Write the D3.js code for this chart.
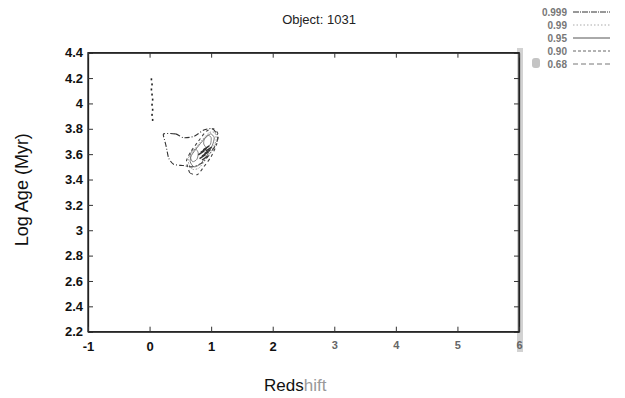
<!DOCTYPE html>
<html><head><meta charset="utf-8">
<script src="https://cdn.jsdelivr.net/npm/d3@7"></script>
<style>body{margin:0;background:#fff}svg{display:block}</style>
</head><body><svg id="c" width="625" height="398"></svg>
<script>
const titleText = "Object: 1031";
const xLabelText = "Redshift";
const yLabelText = "Log Age (Myr)";
const xTicks = [-1,0,1,2,3,4,5,6];
const yTicks = [2.2,2.4,2.6,2.8,3,3.2,3.4,3.6,3.8,4,4.2,4.4];
const legendLabels = ["0.999","0.99","0.95","0.90","0.68"];
const legendDash = ["6,1,1,1","1.5,2","0","3,2","5,3"];
const legendColor = ["#333","#aaa","#555","#666","#777"];

// vertical dotted track near z~0
const trackX = [0.03,0.04,0.03,0.04,0.05,0.04,0.05,0.04,0.05];
const trackY = [4.19,4.15,4.11,4.07,4.03,3.99,3.95,3.91,3.87];

// contour rings (redshift, log age)
const ringOuter = [[0.23,3.76],[0.42,3.76],[0.55,3.73],[0.72,3.74],[0.88,3.79],[1.02,3.80],[1.11,3.74],[1.07,3.67],[0.96,3.59],[0.85,3.53],[0.69,3.50],[0.55,3.51],[0.39,3.52],[0.31,3.57],[0.27,3.66],[0.24,3.72]];
const ringDashed = [[0.62,3.50],[0.66,3.45],[0.78,3.44],[0.88,3.50],[1.00,3.58],[1.09,3.68],[1.11,3.76],[1.04,3.80],[0.92,3.78],[0.79,3.70],[0.67,3.62],[0.60,3.55]];
const ringDotted = [[0.64,3.52],[0.70,3.48],[0.80,3.49],[0.90,3.55],[1.01,3.63],[1.08,3.71],[1.06,3.77],[0.97,3.77],[0.85,3.71],[0.72,3.63],[0.63,3.57]];
const ringMid = [[0.66,3.54],[0.72,3.50],[0.82,3.52],[0.93,3.59],[1.02,3.67],[1.05,3.73],[0.99,3.76],[0.89,3.72],[0.77,3.65],[0.68,3.59]];
const ringInnerA = [[0.66,3.58],[0.70,3.54],[0.77,3.56],[0.79,3.61],[0.75,3.64],[0.68,3.62]];
const ringInnerB = [[0.88,3.68],[0.93,3.65],[0.99,3.68],[1.00,3.73],[0.95,3.75],[0.89,3.72]];
const coreX = [0.86,0.90,0.94,0.88,0.92,0.96,0.84,0.90];
const coreY = [3.58,3.60,3.62,3.63,3.65,3.64,3.61,3.57];

const svg = d3.select("#c");
const x = d3.scaleLinear().domain([-1,6]).range([88,519]);
const y = d3.scaleLinear().domain([2.2,4.4]).range([331.7,52.7]);
const font = "'Liberation Sans', Arial, sans-serif";

// gray scan strip on right edge
svg.append("rect").attr("x",517).attr("y",48).attr("width",6).attr("height",304).attr("fill","#d2d2d2");
svg.append("rect").attr("x",532).attr("y",58).attr("width",8).attr("height",10).attr("rx",3).attr("fill","#c4c4c4");

// frame
svg.append("rect").attr("x",x(-1)).attr("y",y(4.4)).attr("width",x(6)-x(-1)).attr("height",y(2.2)-y(4.4))
  .attr("fill","none").attr("stroke","#222").attr("stroke-width",1.3);

// axes
const gL = svg.append("g").attr("transform",`translate(${x(-1)},0)`)
  .call(d3.axisLeft(y).tickValues(yTicks).tickFormat(d=>String(d)).tickSizeInner(-5).tickSizeOuter(0).tickPadding(5));
const gR = svg.append("g").attr("transform",`translate(${x(6)},0)`)
  .call(d3.axisRight(y).tickValues(yTicks).tickFormat("").tickSizeInner(-5).tickSizeOuter(0));
const gB = svg.append("g").attr("transform",`translate(0,${y(2.2)})`)
  .call(d3.axisBottom(x).tickValues(xTicks).tickFormat(d=>String(d)).tickSizeInner(-5).tickSizeOuter(0).tickPadding(10));
const gT = svg.append("g").attr("transform",`translate(0,${y(4.4)})`)
  .call(d3.axisTop(x).tickValues(xTicks).tickFormat("").tickSizeInner(-5).tickSizeOuter(0));
[gL,gR,gB,gT].forEach(g=>{
  g.select(".domain").attr("stroke","#222").attr("stroke-width",1.3);
  g.selectAll(".tick line").attr("stroke","#333");
  g.selectAll("text").attr("font-family",font).attr("font-size",13).attr("font-weight","bold").attr("fill","#111");
});
gB.selectAll(".tick text").filter(d=>d>=3).attr("fill","#666").attr("font-size",11);

// title & labels
svg.append("text").attr("x",319).attr("y",24).attr("text-anchor","middle").attr("font-family",font)
  .attr("font-size",13).attr("fill","#222").text(titleText);
const xl = svg.append("text").attr("x",264).attr("y",391).attr("font-family",font).attr("font-size",17).attr("fill","#111");
xl.append("tspan").text(xLabelText.slice(0,4));
xl.append("tspan").attr("fill","#999").text(xLabelText.slice(4));
svg.append("text").attr("transform",`translate(28,${y(3.32)}) rotate(-90)`).attr("text-anchor","middle")
  .attr("font-family",font).attr("font-size",18).attr("fill","#111").text(yLabelText);

// data
const line = d3.line().x(d=>x(d[0])).y(d=>y(d[1])).curve(d3.curveCardinalClosed.tension(0.3));
const rings = [
  {pts:ringOuter, dash:"5,2,1,2", color:"#333", w:1.1},
  {pts:ringDashed, dash:"3,3", color:"#444", w:1.1},
  {pts:ringDotted, dash:"1.5,1.5", color:"#999", w:1},
  {pts:ringMid, dash:null, color:"#666", w:0.9},
  {pts:ringInnerA, dash:null, color:"#777", w:0.9},
  {pts:ringInnerB, dash:null, color:"#777", w:0.9}
];
svg.append("g").selectAll("path").data(rings).join("path")
  .attr("d",d=>line(d.pts)).attr("fill","none").attr("stroke",d=>d.color)
  .attr("stroke-width",d=>d.w).attr("stroke-dasharray",d=>d.dash);

const core = coreX.map((v,i)=>[v,coreY[i]]);
svg.append("g").selectAll("line").data(core).join("line")
  .attr("x1",d=>x(d[0])-3).attr("y1",d=>y(d[1])+2).attr("x2",d=>x(d[0])+3).attr("y2",d=>y(d[1])-2)
  .attr("stroke","#333").attr("stroke-width",1.4);

const track = trackX.map((v,i)=>[v,trackY[i]]);
svg.append("g").selectAll("rect").data(track).join("rect")
  .attr("x",d=>x(d[0])-0.8).attr("y",d=>y(d[1])-1).attr("width",1.6).attr("height",2).attr("fill","#222");

// legend
const lg = svg.append("g");
legendLabels.forEach((lab,i)=>{
  const yy = 12 + i*13;
  lg.append("text").attr("x",567).attr("y",yy+4).attr("text-anchor","end").attr("font-family",font)
    .attr("font-size",10).attr("font-weight","bold").attr("fill","#777").text(lab);
  lg.append("line").attr("x1",573).attr("x2",610).attr("y1",yy).attr("y2",yy)
    .attr("stroke",legendColor[i]).attr("stroke-width",1).attr("stroke-dasharray",legendDash[i]==="0"?null:legendDash[i]);
});
</script></body></html>
